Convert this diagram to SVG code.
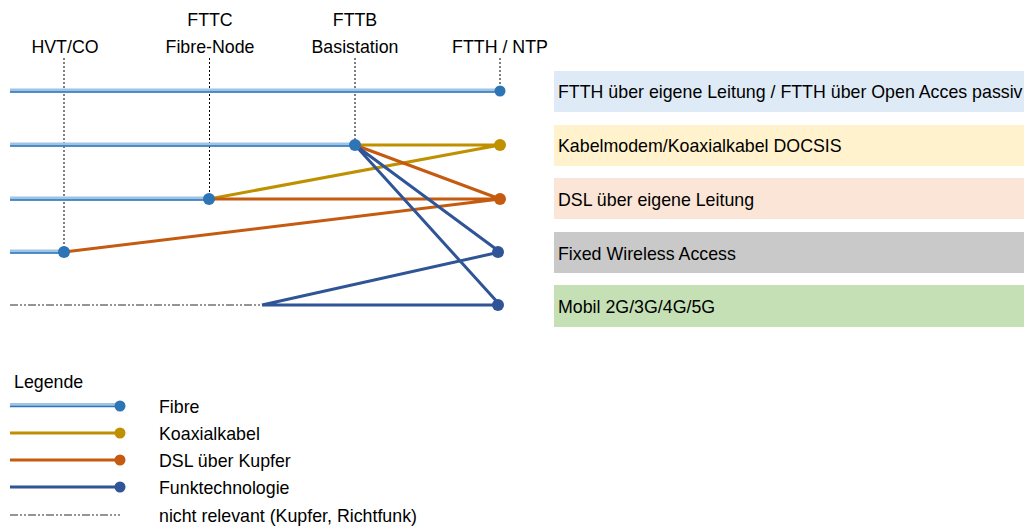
<svg xmlns="http://www.w3.org/2000/svg" width="1024" height="527" viewBox="0 0 1024 527">
<style>
text{font-family:"Liberation Sans","Noto Sans",sans-serif;font-size:17.8px;fill:#000}
.hdr{text-anchor:middle}
.vl{stroke:#000;stroke-width:1;stroke-dasharray:2 2;fill:none}
.fl{stroke:#9DC3E6;stroke-width:4;fill:none}
.fd{stroke:#2E75B6;stroke-width:1.3;fill:none}
.y{stroke:#BF9000;stroke-width:3;fill:none}
.o{stroke:#C55A11;stroke-width:3;fill:none}
.b{stroke:#2F5597;stroke-width:3;fill:none}
.nr{stroke:#767171;stroke-width:1.5;stroke-dasharray:8 2 2 2 2 2;fill:none}
</style>
<rect width="1024" height="527" fill="#fff"/>
<g id="headers">
<text class="hdr" x="65" y="53">HVT/CO</text>
<text class="hdr" x="210" y="26">FTTC</text>
<text class="hdr" x="210" y="53">Fibre-Node</text>
<text class="hdr" x="355" y="26">FTTB</text>
<text class="hdr" x="355" y="53">Basistation</text>
<text class="hdr" x="500" y="53">FTTH / NTP</text>
</g>
<g id="guides">
<line class="vl" x1="64" y1="58" x2="64" y2="252"/>
<line class="vl" x1="209.5" y1="58" x2="209.5" y2="199"/>
<line class="vl" x1="355" y1="58" x2="355" y2="145"/>
<line class="vl" x1="500" y1="58" x2="500" y2="91"/>
</g>
<g id="connectors">
<path class="fl" d="M10 90.5H500M10 144.5H355M10 198.5H209M10 251.5H64"/>
<path class="fd" d="M10 92H500M10 146H355M10 200H209M10 253H64"/>
<path class="nr" d="M10 305H262"/>
<path class="y" d="M355 145L500 145M209 199L500 145"/>
<path class="o" d="M355 145L500 199M209 199L500 199M64 252L500 199"/>
<path class="b" d="M355 145L500 252M355 145L500 305M262 305L500 305M262 305L500 252"/>
</g>
<g id="node-fttb"><circle cx="355" cy="145" r="6" fill="#2E75B6"/></g>
<g id="node-fttc"><circle cx="209" cy="199" r="6" fill="#2E75B6"/></g>
<g id="node-hvt"><circle cx="64" cy="252" r="6" fill="#2E75B6"/></g>
<g id="end-ftth"><circle cx="500" cy="91" r="5.5" fill="#2E75B6"/></g>
<g id="end-koax"><circle cx="500" cy="145" r="6" fill="#BF9000"/></g>
<g id="end-dsl"><circle cx="500" cy="199" r="6" fill="#C55A11"/></g>
<g id="end-fwa"><circle cx="498" cy="252" r="6" fill="#2F5597"/></g>
<g id="end-mobil"><circle cx="498" cy="305" r="6" fill="#2F5597"/></g>
<g id="box-ftth"><rect x="554" y="71" width="480" height="41" fill="#DEEBF7"/><text x="558" y="98">FTTH über eigene Leitung / FTTH über Open Acces passiv</text></g>
<g id="box-koax"><rect x="554" y="125" width="480" height="41" fill="#FFF2CC"/><text x="558" y="152">Kabelmodem/Koaxialkabel DOCSIS</text></g>
<g id="box-dsl"><rect x="554" y="178" width="480" height="41" fill="#FBE5D6"/><text x="558" y="206">DSL über eigene Leitung</text></g>
<g id="box-fwa"><rect x="554" y="232" width="480" height="41" fill="#C9C9C9"/><text x="558" y="260">Fixed Wireless Access</text></g>
<g id="box-mobil"><rect x="554" y="285" width="480" height="42" fill="#C5E0B4"/><text x="558" y="313">Mobil 2G/3G/4G/5G</text></g>
<g id="legend">
<text x="14" y="388">Legende</text>
<path class="fl" d="M10 405H120"/><path class="fd" d="M10 406.5H120"/><circle cx="120" cy="406" r="5.5" fill="#2E75B6"/>
<text x="159" y="413">Fibre</text>
<path class="y" d="M10 433H120"/><circle cx="120" cy="433" r="5.5" fill="#BF9000"/>
<text x="159" y="440">Koaxialkabel</text>
<path class="o" d="M10 460H120"/><circle cx="120" cy="460" r="5.5" fill="#C55A11"/>
<text x="159" y="467">DSL über Kupfer</text>
<path class="b" d="M10 487H120"/><circle cx="120" cy="487" r="5.5" fill="#2F5597"/>
<text x="159" y="494">Funktechnologie</text>
<path class="nr" d="M10 515H120"/>
<text x="159" y="522">nicht relevant (Kupfer, Richtfunk)</text>
</g>
</svg>
